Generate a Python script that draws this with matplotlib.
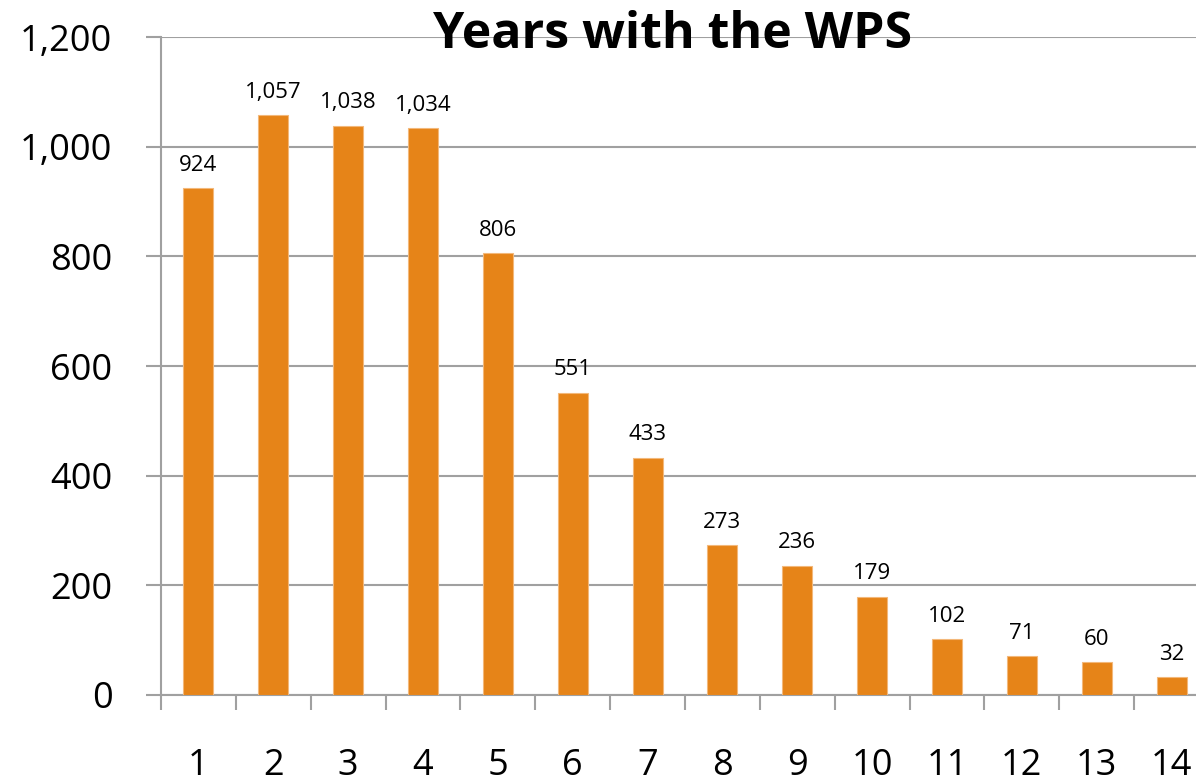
import numpy as np
import matplotlib.pyplot as plt

years = ['1', '2', '3', '4', '5', '6', '7', '8', '9', '10', '11', '12', '13', '14']
counts = [924, 1057, 1038, 1034, 806, 551, 433, 273, 236, 179, 102, 71, 60, 32]
yticks = [0, 200, 400, 600, 800, 1000, 1200]

plt.rcParams['font.family'] = ['Open Sans', 'DejaVu Sans']

fig = plt.figure(figsize=(11.96, 7.82), dpi=100)
# axes runs a little past the right edge, like the original
ax = fig.add_axes([161 / 1196, 1 - 695 / 782, 1048 / 1196, 658 / 782])

x = np.arange(len(years))
ax.bar(x, counts, width=0.4, color='#E68418', edgecolor='#F3B87A', linewidth=0.8, zorder=3)

for xi, v in zip(x, counts):
    ax.annotate(f'{v:,}', (xi, v), xytext=(0, 9), textcoords='offset points',
                ha='center', va='bottom', fontsize=16)

ax.set_xlim(-0.5, len(years) - 0.5)
ax.set_ylim(0, 1200)
ax.set_yticks(yticks)
ax.set_yticklabels([f'{t:,}' for t in yticks])
ax.set_xticks(x)
ax.set_xticklabels(years)
ax.set_xticks(np.arange(len(years) + 1) - 0.5, minor=True)

ax.grid(axis='y', color='#A0A0A0', linewidth=1.5, zorder=0)
for s in ['top', 'right']:
    ax.spines[s].set_visible(False)
for s in ['left', 'bottom']:
    ax.spines[s].set_color('#A0A0A0')
    ax.spines[s].set_linewidth(1.5)

ax.tick_params(axis='y', length=11, width=1.5, color='#A0A0A0', labelsize=26, pad=24)
ax.tick_params(axis='x', which='major', length=0, labelsize=26, pad=38)
ax.tick_params(axis='x', which='minor', length=11, width=1.5, color='#A0A0A0')

fig.text(673 / 1196, 1 - 35 / 782, 'Years with the WPS', ha='center', va='center',
         fontsize=36, fontweight='bold')

fig.savefig('out.png', dpi=100)
